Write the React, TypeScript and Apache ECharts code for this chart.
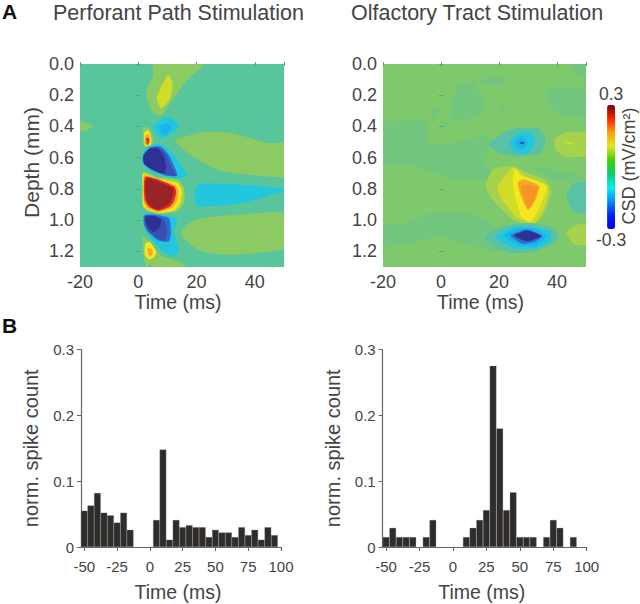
import React, { useEffect, useRef } from "react";
import * as echarts from "echarts";

type Contour = [number, number[][]];

const binCenters = [-50,-45,-40,-35,-30,-25,-20,-15,-10,-5,0,5,10,15,20,25,30,35,40,45,50,55,60,65,70,75,80,85,90,95];
const perforantCounts = [.055,.063,.082,.052,.048,.037,.052,.026,0,0,0,.041,.148,.011,.041,.03,.033,.03,.03,.015,.026,.022,.022,.015,.03,.018,.026,.011,.03,.018];
const olfactoryCounts = [.015,.029,.015,.015,.015,0,.015,.041,0,0,0,0,.015,.029,.041,.056,.275,.18,.056,.083,.015,.015,.015,0,.015,.041,.029,0,.015,0];

const barTicks = [-50,-25,0,25,50,75,100];
const spikeTicks = [0,.1,.2,.3];
const timeTicks = [-20,0,20,40];
const depthTicks = [0,.2,.4,.6,.8,1,1.2];

// Filled contours: [CSD level, [time ms, depth mm] vertices]
const perforantSlow: Contour[] = [
  [.02, [[12.6,.49],[24.6,.433],[33.7,.448],[44,.505],[53,.512],[53,.719],[40.6,.714],[28,.682],[20,.608]]],
  [-.09, [[19.5,.8],[21.2,.768],[31.5,.768],[51,.804],[46.3,.832],[37.2,.885],[25.7,.91],[20,.906]]],
  [.02, [[14.5,1.088],[18.9,1.002],[30.4,.97],[53,.96],[53,1.162],[42.9,1.205],[30.4,1.222],[21.2,1.194]]],
  [.02, [[-22,.36],[-18,.375],[-15.6,.4],[-18,.425],[-22,.42]]],
];
const perforantTop: Contour[] = [
  [.02, [[5.2,-.05],[25,-.05],[16.6,.107],[9.7,.288],[7.4,.335],[4.6,.3],[2.6,.18],[5,.075]]],
  [.06, [[10.3,.07],[11.7,.117],[11.1,.213],[8,.285],[6.3,.224],[8,.139]]],
  [-.09, [[5,.405],[8,.352],[10.9,.342],[14,.394],[10.9,.452],[7.4,.472]]],
  [-.13, [[7.2,.405],[9.2,.38],[11.4,.4],[9.7,.452],[8,.44]]],
  [.02, [[1.6,.412],[3.1,.4],[4.8,.448],[5,.52],[2.6,.532],[1.6,.505]]],
  [.1, [[2.1,.436],[3.6,.428],[4.5,.48],[4.2,.524],[2.3,.524]]],
  [.16, [[2.5,.455],[3.6,.45],[4.1,.49],[3.6,.52],[2.3,.51]]],
  [.25, [[2.7,.476],[3.6,.476],[3.7,.5],[3.1,.52]]],
];
const perforantSink: Contour[] = [
  [-.09, [[1.7,.58],[3.2,.528],[6.9,.512],[10.5,.55],[13.4,.615],[16.6,.706],[13.2,.738],[9.7,.72],[4.4,.69],[1.6,.635]]],
  [-.18, [[1.7,.58],[4,.534],[7.6,.528],[10.5,.584],[12.2,.65],[13.4,.716],[9.7,.716],[4.4,.675],[1.7,.635]]],
  [-.24, [[1.8,.585],[4,.538],[7,.534],[9.4,.574],[11.4,.66],[13,.716],[9.2,.704],[4.4,.668],[2,.64]]],
  [-.29, [[1.8,.592],[4,.542],[6.7,.542],[8.6,.584],[9.5,.66],[8.8,.7],[5.2,.68],[2.2,.64]]],
];
const perforantSource: Contour[] = [
  [.03, [[1.7,.69],[6.3,.725],[13.4,.74],[15.8,.8],[15.6,.89],[13.1,.945],[7.4,.96],[3,.94],[1.5,.91],[1.5,.8]]],
  [.1, [[1.7,.704],[6.3,.735],[13.4,.762],[14.9,.81],[14.4,.89],[12.2,.938],[7.4,.952],[3.3,.934],[1.7,.91],[1.5,.8]]],
  [.16, [[2,.714],[6.3,.735],[12.8,.778],[13.7,.81],[13.2,.88],[11.3,.924],[6.9,.945],[3.2,.924],[2,.89]]],
  [.25, [[2.3,.725],[6.5,.738],[12.4,.786],[13,.821],[12.2,.88],[10.6,.916],[6.9,.94],[3.6,.914],[2.2,.87]]],
  [.3, [[2.7,.734],[6.3,.75],[11.8,.795],[12.1,.825],[11.1,.88],[9.4,.912],[6.3,.93],[3.8,.902],[2.7,.86]]],
];
const perforantLower: Contour[] = [
  [-.09, [[1.7,.96],[6.3,.96],[13.2,.988],[12.2,1.077],[14,1.198],[11.5,1.23],[7.8,1.19],[3.8,1.105],[2.1,1.04]]],
  [-.18, [[2,.97],[5.7,.965],[10.5,.987],[11.2,1.077],[10.5,1.136],[6.9,1.13],[3.2,1.072],[2,1.03]]],
  [-.24, [[2.2,.975],[5.7,.97],[8.8,.998],[10,1.077],[8.8,1.132],[6.5,1.115],[3.2,1.06]]],
  [-.29, [[2.4,.982],[5.2,.974],[7.9,.998],[7.1,1.05],[5.2,1.076],[3.2,1.04]]],
  [.02, [[1.6,1.1],[5,1.16],[8,1.23],[13.2,1.26],[18,1.32],[3.4,1.32],[1.8,1.22]]],
  [.1, [[2.5,1.148],[4,1.14],[6.2,1.205],[5.3,1.24],[3.4,1.25],[2.2,1.216]]],
  [.16, [[3.1,1.18],[4.7,1.186],[4.9,1.218],[3.7,1.23]]],
  [-.09, [[2.9,1.32],[4,1.285],[5.5,1.32]]],
];

const olfactoryTeal: Contour[] = [
  [-.01, [[-22,.39],[-12.9,.362],[-5.4,.362],[-4.3,.511],[5.5,.5],[15.8,.458],[16.9,.543],[14.7,.629],[19,.725],[5.5,.735],[-5.4,.68],[-12.9,.64],[-22,.65]]],
  [-.01, [[3.2,.266],[6.6,.128],[11.2,.117],[15.2,.266],[10.1,.352],[3.2,.352]]],
  [-.01, [[36.5,.16],[44.5,.149],[53,.16],[53,.341],[42.2,.33],[37,.266]]],
  [-.01, [[44.5,-.03],[53,-.03],[53,.075],[47.4,.075]]],
  [-.01, [[14.1,.096],[19.2,.085],[22.7,.096],[19.2,.139],[14.7,.128]]],
  [-.01, [[-3.7,.277],[-.8,.298],[-2.6,.352]]],
  [-.01, [[.3,.373],[2.6,.384],[1.5,.426]]],
  [-.01, [[21,.266],[23.3,.309],[21,.309]]],
  [-.01, [[-22,1.034],[-12.9,1.023],[-3.7,.959],[10.1,.959],[18.1,1.023],[21.5,1.14],[19.2,1.204],[10.1,1.161],[-1.4,1.108],[-12.9,1.161],[-22,1.161]]],
  [-.01, [[31.9,.661],[41,.682],[49.1,.735],[43.3,.757],[36.5,.725]]],
  [-.03, [[43.3,.842],[45.6,.767],[53,.757],[53,.948],[45.6,.948]]],
];
const olfactoryWarmSide: Contour[] = [
  [.03, [[39.3,.48],[43.3,.437],[53,.448],[53,.575],[43.3,.597],[39.3,.543]]],
  [.06, [[42.8,.505],[44.5,.5],[46.2,.511],[44.5,.516]]],
  [.03, [[43.3,1.076],[46.8,1.029],[53,1.034],[53,1.161],[45.6,1.151]]],
];
const olfactoryUpperSink: Contour[] = [
  [-.03, [[16.7,.511],[23.8,.42],[33.2,.41],[36.1,.48],[34.4,.57],[26.1,.592],[19,.56]]],
  [-.09, [[23.6,.505],[26.7,.442],[30.9,.442],[32.6,.505],[29.6,.575],[25.4,.56]]],
  [-.13, [[25.4,.505],[27.9,.462],[29.8,.505],[27.9,.55]]],
  [-.24, [[27,.505],[27.9,.497],[28.9,.507],[27.9,.514]]],
];
const olfactorySource: Contour[] = [
  [.03, [[15.4,.778],[18.1,.676],[25,.655],[29.6,.697],[35.6,.74],[38,.81],[35.6,.955],[31.9,1.03],[25,.998],[17.8,.87]]],
  [.06, [[19.4,.8],[25,.662],[29.2,.718],[36.9,.782],[35.6,.92],[31.9,1.02],[25.8,.976]]],
  [.1, [[24.7,.746],[25.6,.672],[28,.718],[36.3,.782],[33.9,.92],[30.7,1.012],[27.7,.976],[25.8,.865]]],
  [.16, [[26.4,.762],[28.4,.738],[33.9,.782],[32.7,.866],[30.1,.936],[28,.866]]],
  [.19, [[27.7,.784],[30.1,.774],[33.2,.79],[32.1,.866],[30.1,.922],[28.5,.852]]],
];
const olfactoryLowerSink: Contour[] = [
  [-.03, [[15,1.108],[21,1.04],[30.7,1.018],[39,1.052],[40.2,1.129],[33,1.198],[23.8,1.21],[18,1.166]]],
  [-.09, [[18.8,1.108],[23.8,1.05],[30.7,1.04],[37.3,1.072],[37.9,1.132],[33,1.178],[25,1.178]]],
  [-.13, [[21.8,1.097],[26.1,1.054],[32.4,1.054],[36.2,1.102],[33,1.162],[26.1,1.156]]],
  [-.18, [[24,1.097],[29.6,1.06],[33.2,1.082],[35,1.102],[32.4,1.14],[27.9,1.15]]],
  [-.29, [[25.2,1.099],[29.6,1.066],[34.6,1.102],[29.6,1.136]]],
];

const perforantContours: Contour[] = [...perforantSlow, ...perforantTop, ...perforantSink, ...perforantSource, ...perforantLower];
const olfactoryContours: Contour[] = [...olfactoryTeal, ...olfactoryWarmSide, ...olfactoryUpperSink, ...olfactorySource, ...olfactoryLowerSink];

const levelColors: Record<string, string> = {
  "-0.29": "#2f3096", "-0.24": "#3a4fae", "-0.18": "#2c6ed0", "-0.13": "#18b4ea", "-0.09": "#22c6de",
  "-0.03": "#58c3a4", "-0.01": "#72c67e", "0.02": "#8ccb64", "0.03": "#a6d24e", "0.06": "#cfdc28",
  "0.1": "#f3e71e", "0.16": "#f9a826", "0.19": "#f59228", "0.25": "#e8281f", "0.3": "#982428",
};
const colorbarStops = ["#0000e0","#0020ff","#0090ff","#00f0f0","#00d070","#40d000","#e0e820","#ffa000","#ff2000","#700000"];

const TEXT = "#444444";
const FONT = "Liberation Sans";

function contourSeries(contours: Contour[], xAxisIndex: number, yAxisIndex: number) {
  return {
    type: "custom",
    coordinateSystem: "cartesian2d",
    xAxisIndex, yAxisIndex,
    clip: true,
    silent: true,
    data: contours.map((c, i) => [c[0], i]),
    renderItem: (params: any, api: any) => {
      const [level, pts] = contours[params.dataIndex];
      return {
        type: "polygon",
        shape: { points: pts.map((p) => api.coord(p)), smooth: 0.2 },
        style: { fill: levelColors[String(level)] ?? "#8ccb64" },
      };
    },
  };
}

function heatAxes(gridIndex: number) {
  const hidden = { show: false };
  const faintTick = { show: true, inside: true, length: 2, lineStyle: { color: "#5f9f80", width: 1 } };
  const x = { type: "value", gridIndex, min: -20, max: 50, splitLine: hidden, axisLine: hidden };
  const y = { type: "value", gridIndex, min: 0, max: 1.3, inverse: true, splitLine: hidden, axisLine: hidden };
  return {
    xAxes: [
      { ...x, position: "bottom", name: "Time (ms)", nameLocation: "middle", nameGap: 18,
        nameTextStyle: { color: TEXT, fontSize: 19.5, fontFamily: FONT, padding: [0, 8, 0, 0] },
        axisTick: { ...faintTick, customValues: [...timeTicks, 50] },
        axisLabel: { color: TEXT, fontSize: 18, fontFamily: FONT, margin: 6, customValues: timeTicks } },
      { ...x, position: "top", axisTick: { ...faintTick, customValues: [...timeTicks, 50] }, axisLabel: hidden },
    ],
    yAxes: [
      { ...y, position: "left", name: gridIndex === 0 ? "Depth (mm)" : "", nameLocation: "middle", nameGap: 38,
        nameTextStyle: { color: TEXT, fontSize: 21, fontFamily: FONT, padding: [0, 0, 0, 6] },
        axisTick: { ...faintTick, customValues: depthTicks },
        axisLabel: { color: TEXT, fontSize: 18, fontFamily: FONT, margin: 6, customValues: depthTicks,
          formatter: (v: number) => v.toFixed(1) } },
      { ...y, position: "right", axisTick: { ...faintTick, customValues: depthTicks }, axisLabel: hidden },
    ],
  };
}

function barAxes(gridIndex: number) {
  const line = { show: true, onZero: false, lineStyle: { color: "#666666", width: 1.2 } };
  const tick = { show: true, length: 4, lineStyle: { color: "#666666", width: 1 } };
  return {
    x: { type: "value", gridIndex, min: -52.5, max: 100, splitLine: { show: false }, axisLine: line,
      position: "bottom", name: "Time (ms)", nameLocation: "middle", nameGap: 35,
      nameTextStyle: { color: TEXT, fontSize: 19.5, fontFamily: FONT, padding: [0, 6, 0, 0] },
      axisTick: { ...tick, customValues: barTicks },
      axisLabel: { color: TEXT, fontSize: 15, fontFamily: FONT, margin: 12, customValues: barTicks } },
    y: { type: "value", gridIndex, min: 0, max: .3, interval: .1, splitLine: { show: false }, axisLine: line,
      name: "norm. spike count", nameLocation: "middle", nameGap: 40,
      nameTextStyle: { color: TEXT, fontSize: 20, fontFamily: FONT },
      axisTick: tick,
      axisLabel: { color: TEXT, fontSize: 15, fontFamily: FONT, margin: 7, customValues: spikeTicks,
        formatter: (v: number) => (v === 0 ? "0" : v.toFixed(1)) } },
  };
}

function barSeries(values: number[], xAxisIndex: number, yAxisIndex: number) {
  return {
    type: "bar",
    xAxisIndex, yAxisIndex,
    barWidth: 6.6,
    silent: true,
    itemStyle: { color: "#2f2d2b", borderColor: "#8a8886", borderWidth: 0.3 },
    data: binCenters.map((c, i) => [c, values[i]]).filter((d) => d[1] > 0),
  };
}

const option = () => {
  const h0 = heatAxes(0);
  const h1 = heatAxes(1);
  const b0 = barAxes(2);
  const b1 = barAxes(3);
  const titleStyle = { color: TEXT, fontSize: 21.5, fontWeight: "normal", fontFamily: FONT };
  const panelStyle = { color: "#111111", fontSize: 21, fontWeight: "bold", fontFamily: FONT };
  return {
    animation: false,
    backgroundColor: "#ffffff",
    title: [
      { text: "Perforant Path Stimulation", left: 53, top: 2, padding: 0, textStyle: titleStyle },
      { text: "Olfactory Tract Stimulation", left: 351, top: 2, padding: 0, textStyle: titleStyle },
      { text: "A", left: 2, top: 1, padding: 0, textStyle: panelStyle },
      { text: "B", left: 2, top: 315, padding: 0, textStyle: panelStyle },
    ],
    grid: [
      { left: 80, width: 204, top: 64, height: 203, show: true, borderWidth: 0, backgroundColor: "#58c59a" },
      { left: 383, width: 203, top: 64, height: 203, show: true, borderWidth: 0, backgroundColor: "#7fc96d" },
      { left: 81, width: 200, top: 349.5, height: 197.5 },
      { left: 382.7, width: 204, top: 349.5, height: 197.5 },
    ],
    xAxis: [...h0.xAxes, ...h1.xAxes, b0.x, b1.x],
    yAxis: [...h0.yAxes, ...h1.yAxes, b0.y, b1.y],
    visualMap: {
      type: "continuous",
      seriesIndex: [0, 1],
      dimension: 0,
      min: -0.3,
      max: 0.3,
      calculable: false,
      left: 581,
      top: 70,
      itemWidth: 8,
      itemHeight: 124,
      text: ["0.3", "-0.3"],
      textGap: 2,
      textStyle: { color: TEXT, fontSize: 17.5, fontFamily: FONT },
      inRange: { color: colorbarStops },
    },
    graphic: [
      { type: "text", rotation: Math.PI / 2, x: 629, y: 166, silent: true,
        style: { text: "CSD (mV/cm²)", fill: TEXT, fontSize: 18, fontFamily: FONT, align: "center", verticalAlign: "middle" } },
    ],
    series: [
      contourSeries(perforantContours, 0, 0),
      contourSeries(olfactoryContours, 2, 2),
      barSeries(perforantCounts, 4, 4),
      barSeries(olfactoryCounts, 5, 5),
    ],
  };
};

export default function App() {
  const ref = useRef<HTMLDivElement>(null);
  useEffect(() => {
    const chart = echarts.init(ref.current!, undefined, { renderer: "svg" });
    chart.setOption(option() as any);
    return () => chart.dispose();
  }, []);
  return <div ref={ref} style={{ position: "absolute", left: 0, top: 0, width: 640, height: 604 }} />;
}
